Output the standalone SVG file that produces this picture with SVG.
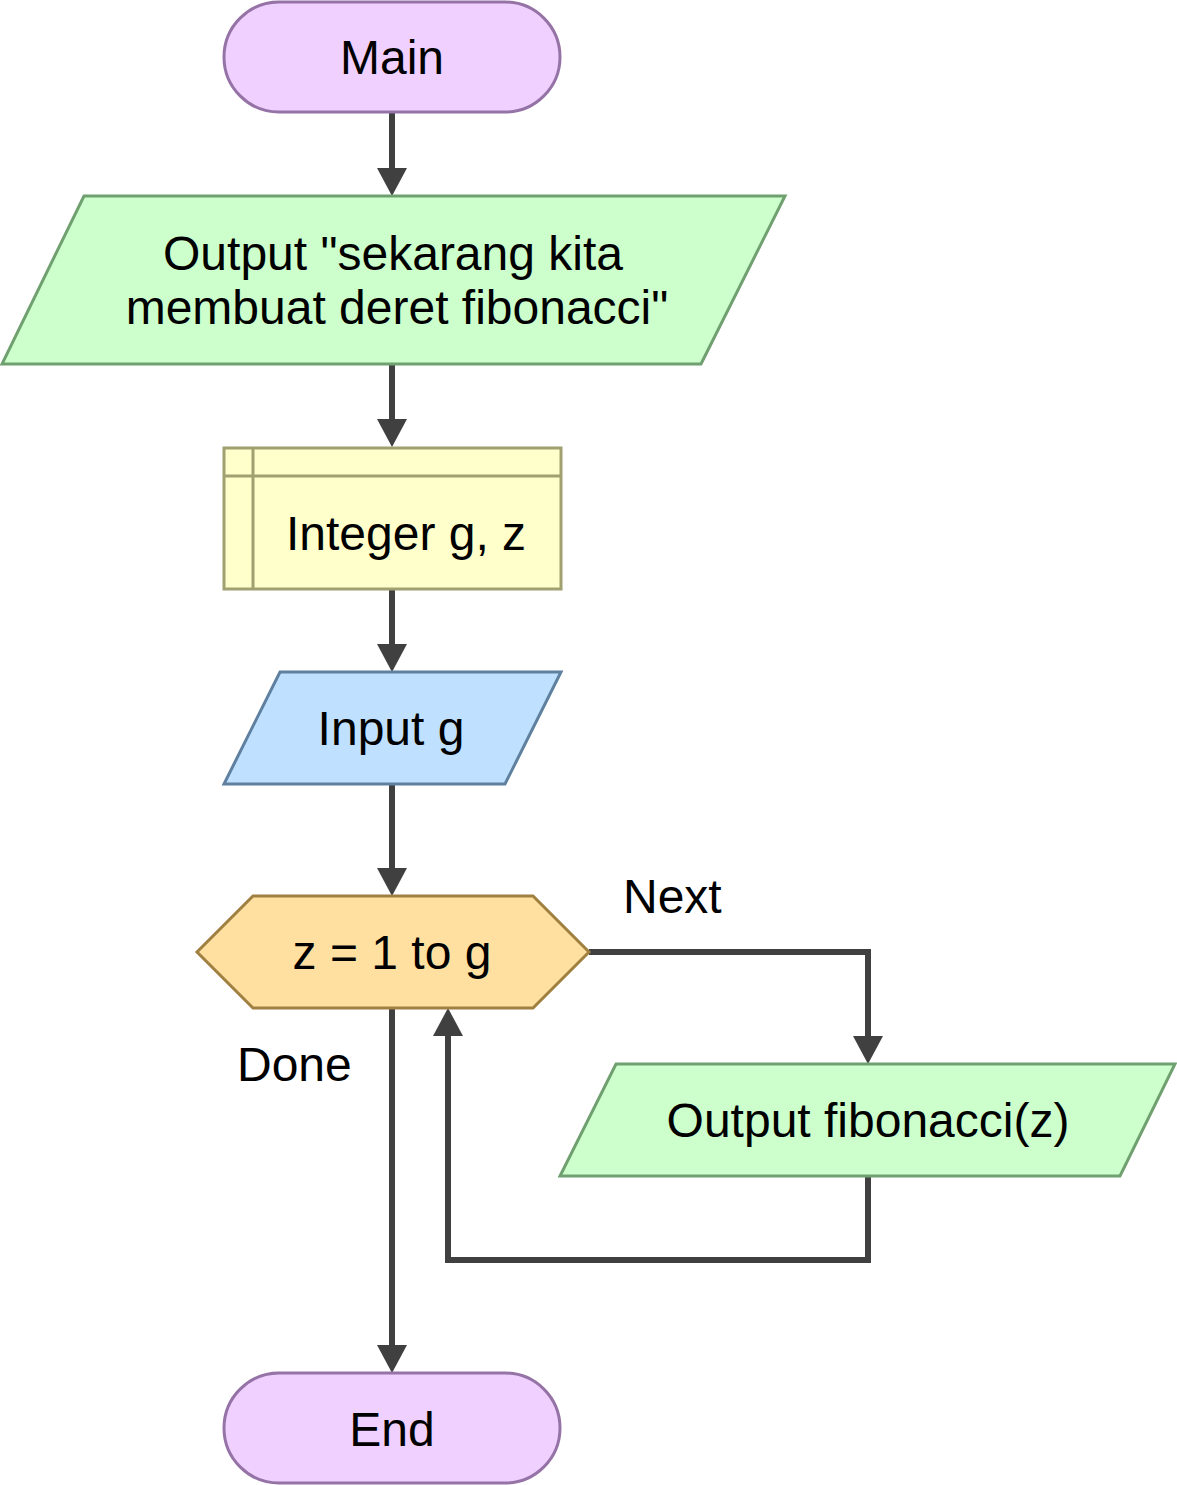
<svg xmlns="http://www.w3.org/2000/svg" width="1177" height="1485" viewBox="0 0 1177 1485">
<style>
text{font-family:"Liberation Sans",Arial,sans-serif;font-size:48px;fill:#000;}
.c{text-anchor:middle;}
.term{fill:#f0d0ff;stroke:#9673a6;stroke-width:3;}
.out{fill:#ccffcc;stroke:#70a070;stroke-width:3;}
.decl{fill:#ffffcc;stroke:#a0a070;stroke-width:3;}
.inp{fill:#c0e0ff;stroke:#6080a0;stroke-width:3;}
.loop{fill:#ffe0a0;stroke:#a08040;stroke-width:3;}
.edge{fill:none;stroke:#404040;stroke-width:6;marker-end:url(#arr);}
</style>
<defs>
<marker id="arr" markerUnits="userSpaceOnUse" viewBox="0 0 28 30" markerWidth="28" markerHeight="30" refX="8" refY="15" orient="auto">
<path d="M0,0 L28,15 L0,30 z" fill="#404040"/>
</marker>
</defs>
<rect width="1177" height="1485" fill="#fff"/>
<g id="connectors">
<path class="edge" d="M392,113 V176"/>
<path class="edge" d="M392,364 V427"/>
<path class="edge" d="M392,589 V652"/>
<path class="edge" d="M392,784 V876"/>
<path class="edge" d="M589,952 H868 V1044"/>
<path class="edge" d="M868,1176 V1260 H448 V1028"/>
<path class="edge" d="M392,1008 V1353"/>
<text x="623" y="913">Next</text>
<text x="237" y="1081">Done</text>
</g>
<g id="main">
<rect class="term" x="224" y="2" width="336" height="110" rx="55" ry="55"/>
<text class="c" x="392" y="74">Main</text>
</g>
<g id="output1">
<polygon class="out" points="84,196 785,196 701,364 2,364"/>
<text class="c" x="393" y="270">Output "sekarang kita</text>
<text class="c" x="397" y="324">membuat deret fibonacci"</text>
</g>
<g id="declare">
<rect class="decl" x="224" y="448" width="337" height="141"/>
<line x1="253" y1="448" x2="253" y2="589" stroke="#a0a070" stroke-width="3"/>
<line x1="224" y1="476" x2="561" y2="476" stroke="#a0a070" stroke-width="3"/>
<text class="c" x="406" y="550">Integer g, z</text>
</g>
<g id="input">
<polygon class="inp" points="280,672 561,672 505,784 224,784"/>
<text class="c" x="391" y="745">Input g</text>
</g>
<g id="for">
<polygon class="loop" points="197,952 253,896 533,896 589,952 533,1008 253,1008"/>
<text class="c" x="392" y="969">z = 1 to g</text>
</g>
<g id="output2">
<polygon class="out" points="616,1064 1175,1064 1120,1176 560,1176"/>
<text class="c" x="868" y="1137">Output fibonacci(z)</text>
</g>
<g id="end">
<rect class="term" x="224" y="1373" width="336" height="110" rx="55" ry="55"/>
<text class="c" x="392" y="1446">End</text>
</g>
</svg>
